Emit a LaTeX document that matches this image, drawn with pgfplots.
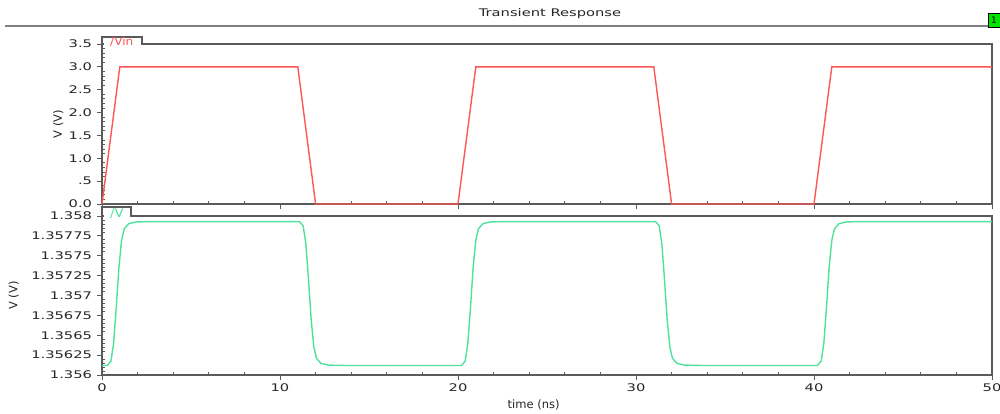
\documentclass[border=0pt]{standalone}
\usepackage{pgfplots}
\pgfplotsset{compat=1.18}
\usepackage{fontspec}
\setmainfont{DejaVu Sans}
\definecolor{vinred}{RGB}{255,85,85}
\definecolor{vgreen}{RGB}{80,225,155}
\definecolor{frame}{RGB}{90,90,90}
\begin{document}
\begin{tikzpicture}[x=1pt,y=1pt]
\useasboundingbox (0,0) rectangle (1000,413);
\pgfplotsset{
  every axis/.append style={
    scale only axis, width=890pt,
    xmin=0, xmax=50,
    axis line style={frame, line width=1.2pt},
    tick style={frame, line width=0.8pt},
    tick align=outside,
    xtick pos=bottom, ytick pos=left,
    major tick length=5pt, minor tick length=3pt,
    minor x tick style={yshift=3pt},
    minor y tick style={xshift=3pt},
    xtick={0,10,20,30,40,50},
    minor x tick num=4,
    minor y tick num=4,
    /pgf/number format/assume math mode=true,
    tick label style={font=\fontsize{10.5}{12}\selectfont, text=black!85, xscale=1.4},
    label style={font=\fontsize{11.5}{13}\selectfont, text=black!85},
    ylabel={V (V)},
    clip=false,
  }
}
% top axis
\begin{axis}[at={(102pt,209pt)}, anchor=south west, height=160pt,
  ymin=0, ymax=3.5,
  ytick={0,0.5,1,1.5,2,2.5,3,3.5},
  yticklabels={0.0,.5,1.0,1.5,2.0,2.5,3.0,3.5},
  xticklabels={},
  ylabel style={at={(axis description cs:-0.049,0.5)}, anchor=center},
]
\addplot[vinred, line width=1.4pt] coordinates {
(0,0) (1,3) (11,3) (12,0) (20,0) (21,3) (31,3) (32,0) (40,0) (41,3) (50,3)
};
\end{axis}
% bottom axis
\begin{axis}[at={(102pt,38pt)}, anchor=south west, height=159pt,
  ymin=1.356, ymax=1.358,
  ytick={1.356,1.35625,1.3565,1.35675,1.357,1.35725,1.3575,1.35775,1.358},
  yticklabels={1.356,1.35625,1.3565,1.35675,1.357,1.35725,1.3575,1.35775,1.358},
  xlabel={time (ns)},
  xlabel style={at={(axis description cs:0.485,-0.19)}, anchor=center},
  ylabel style={at={(axis description cs:-0.099,0.5)}, anchor=center},
]
\addplot[vgreen, line width=1.4pt] coordinates {
(0,1.35612) (0.3,1.35612) (0.5,1.356174) (0.65,1.356392) (0.8,1.356844) (0.95,1.357351) (1.1,1.357695) (1.25,1.35784) (1.5,1.357903) (1.9,1.357925) (2.8,1.35793)
(11.1,1.35793) (11.3,1.357876) (11.45,1.357658) (11.6,1.357206) (11.75,1.356699) (11.9,1.356355) (12.05,1.35621) (12.3,1.356147) (12.7,1.356125) (13.6,1.35612)
(20.2,1.35612) (20.4,1.356174) (20.55,1.356392) (20.7,1.356844) (20.85,1.357351) (21.0,1.357695) (21.15,1.35784) (21.4,1.357903) (21.8,1.357925) (22.7,1.35793)
(31.1,1.35793) (31.3,1.357876) (31.45,1.357658) (31.6,1.357206) (31.75,1.356699) (31.9,1.356355) (32.05,1.35621) (32.3,1.356147) (32.7,1.356125) (33.6,1.35612)
(40.2,1.35612) (40.4,1.356174) (40.55,1.356392) (40.7,1.356844) (40.85,1.357351) (41.0,1.357695) (41.15,1.35784) (41.4,1.357903) (41.8,1.357925) (42.7,1.35793)
(50,1.35793)
};
\end{axis}
% tabs
\fill[white] (103.5,366) rectangle (141,375.5);
\draw[frame, line width=1.2pt] (102,369) -- (102,376) -- (142,376) -- (142,369);
\node[anchor=west, inner sep=0pt, text=vinred, font=\fontsize{11}{12}\selectfont, xscale=1.1] at (110,371) {/Vin};
\fill[white] (103.5,194) rectangle (130,205);
\draw[frame, line width=1.2pt] (102,197) -- (102,206) -- (131,206) -- (131,197);
\node[anchor=west, inner sep=0pt, text=vgreen, font=\fontsize{12}{13}\selectfont, xscale=1.1] at (110,199) {/V};
% title and header line
\node[font=\fontsize{10.5}{12}\selectfont, text=black!85, xscale=1.4] at (550,399) {Transient Response};
\draw[black!50, line width=1.2pt] (5,387) -- (1000,387);
\draw[black, fill=green!90!black] (988,386) rectangle (1004,400);
\node[font=\fontsize{9}{10}\selectfont, anchor=west, inner sep=0pt] at (991,393) {1};
\end{tikzpicture}
\end{document}
